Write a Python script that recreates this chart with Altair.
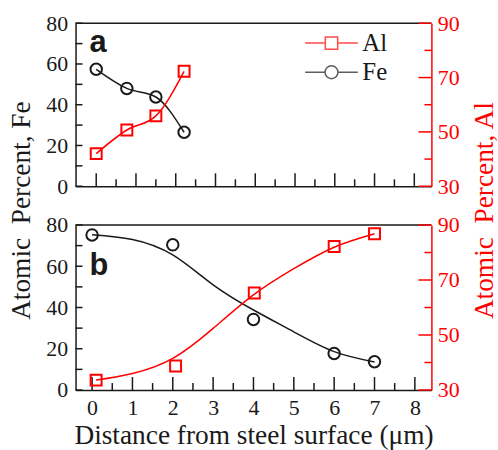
import altair as alt
import pandas as pd

# ---------------- data ----------------
# panel a
xa = [0.0, 0.77, 1.5, 2.21]
fe_a = [57.4, 48.0, 43.8, 26.5]
al_a = [42.0, 50.7, 55.9, 72.3]

# panel b measured points
fe_b_x = [0.0, 2.0, 4.0, 6.0, 7.0]
fe_b = [75.2, 70.4, 34.2, 17.7, 13.7]
al_b_x = [0.1, 2.07, 4.02, 6.0, 7.0]
al_b = [33.6, 38.7, 65.3, 82.2, 86.8]

# panel b fitted curves
fe_fit_x = [0, 1, 2, 3, 4, 5, 6, 7]
fe_fit = [75.3, 73.0, 65.5, 51.0, 38.8, 28.2, 18.6, 13.6]
al_fit_x = [0.1, 1, 2, 3, 4, 5, 6, 7]
al_fit = [33.6, 36.0, 41.5, 52.4, 64.6, 74.1, 81.9, 86.8]

# ticks
x_major = [0, 1, 2, 3, 4, 5, 6, 7, 8]
x_minor = [0.5, 1.5, 2.5, 3.5, 4.5, 5.5, 6.5, 7.5]
fe_ticks = [0, 10, 20, 30, 40, 50, 60, 70, 80]
fe_labels = [0, 20, 40, 60, 80]
al_major = [30, 50, 70, 90]
al_minor = [40, 60, 80]

series = ["Al", "Fe"]

RED = "#ff0000"
BLK = "#1a1a1a"
SERIF = "Liberation Serif"
W = 358
HA = 164
HB = 166
TICK_FS = 22
TITLE_FS = 27.5

AL_PATH = "M-1.96,0H-0.46M0.46,0H1.96M-0.46,-0.46H0.46V0.46H-0.46Z"
FE_PATH = ("M-1.96,0H-0.48M0.48,0H1.96M-0.48,0A0.48,0.48 0 1,0 0.48,0"
           "A0.48,0.48 0 1,0 -0.48,0")


def df(xs, vs, s):
    return pd.DataFrame({"x": xs, "v": vs, "s": s})


def panel(xdom, h, fe_pts, al_pts, fe_line, al_line, interp, bottom_labels,
          letter, letter_y, with_legend):
    xs = alt.Scale(domain=xdom, nice=False, zero=False)
    fes = alt.Scale(domain=[0, 80], nice=False, zero=False)
    als = alt.Scale(domain=[30, 90], nice=False, zero=False)

    common = dict(labelFont=SERIF, titleFont=SERIF, labelFontSize=TICK_FS,
                  titleFontWeight="normal", ticks=False, grid=False,
                  domainWidth=1.5)
    if bottom_labels:
        xaxis = alt.Axis(orient="bottom", values=x_major, format="d",
                         labelPadding=8, labelColor=BLK, domainColor=BLK,
                         title="Distance from steel surface (\u03bcm)",
                         titleFontSize=TITLE_FS, titlePadding=3, titleColor=BLK,
                         **common)
    else:
        xaxis = alt.Axis(orient="bottom", labels=False, title="",
                         domainColor=BLK, **common)

    if with_legend:
        laxis = alt.Axis(orient="left", values=fe_labels, labelPadding=8,
                         labelColor=BLK, domainColor=BLK,
                         title="Atomic\u00a0 Percent, Fe", titleX=-54, titleY=188,
                         titleAngle=270, titleAlign="center", titleBaseline="middle",
                         titleFontSize=TITLE_FS, titleColor=BLK, **common)
        raxis = alt.Axis(orient="right", values=al_major, labelPadding=6,
                         labelColor=RED, domainColor=RED,
                         title="Atomic\u00a0 Percent, Al", titleX=53, titleY=188,
                         titleAngle=270, titleAlign="center", titleBaseline="middle",
                         titleFontSize=TITLE_FS, titleColor=RED, **common)
    else:
        laxis = alt.Axis(orient="left", values=fe_labels, labelPadding=8,
                         labelColor=BLK, domainColor=BLK, title="", **common)
        raxis = alt.Axis(orient="right", values=al_major, labelPadding=6,
                         labelColor=RED, domainColor=RED, title="", **common)

    fe_line_l = alt.Chart(fe_line).mark_line(
        interpolate=interp, color=BLK, strokeWidth=1.5).encode(
        x=alt.X("x:Q", scale=xs, axis=xaxis),
        y=alt.Y("v:Q", scale=fes, axis=laxis))
    fe_pts_l = alt.Chart(fe_pts).mark_point(
        shape="circle", filled=False, size=133, strokeWidth=2, opacity=1,
        color=BLK).encode(
        x=alt.X("x:Q", scale=xs), y=alt.Y("v:Q", scale=fes))
    fe_tick_l = alt.Chart(pd.DataFrame({"v": fe_ticks})).mark_rule(
        color=BLK, strokeWidth=1.5).encode(
        y=alt.Y("v:Q", scale=fes), x=alt.value(0), x2=alt.value(7))
    xmaj_l = alt.Chart(pd.DataFrame({"x": x_major})).mark_rule(
        color=BLK, strokeWidth=1.5).encode(
        x=alt.X("x:Q", scale=xs), y=alt.value(h), y2=alt.value(h - 13))
    xmin_l = alt.Chart(pd.DataFrame({"x": x_minor})).mark_rule(
        color=BLK, strokeWidth=1.5).encode(
        x=alt.X("x:Q", scale=xs), y=alt.value(h), y2=alt.value(h - 7))
    top_l = alt.Chart(pd.DataFrame({"k": [0]})).mark_rule(
        color=BLK, strokeWidth=1.5).encode(
        x=alt.value(0), x2=alt.value(W), y=alt.value(0))
    letter_l = alt.Chart(pd.DataFrame({"t": [letter]})).mark_text(
        font="Liberation Sans", fontWeight="bold", fontSize=31, align="left",
        baseline="alphabetic", color=BLK).encode(
        text="t:N", x=alt.value(14), y=alt.value(letter_y))

    al_line_l = alt.Chart(al_line).mark_line(
        interpolate=interp, color=RED, strokeWidth=1.5).encode(
        x=alt.X("x:Q", scale=xs),
        y=alt.Y("v:Q", scale=als, axis=raxis))
    al_pts_l = alt.Chart(al_pts).mark_point(
        shape="square", filled=False, size=121, strokeWidth=2, opacity=1,
        color=RED).encode(
        x=alt.X("x:Q", scale=xs), y=alt.Y("v:Q", scale=als))
    al_maj_l = alt.Chart(pd.DataFrame({"v": al_major})).mark_rule(
        color=RED, strokeWidth=1.5).encode(
        y=alt.Y("v:Q", scale=als), x=alt.value(W), x2=alt.value(W - 13))
    al_min_l = alt.Chart(pd.DataFrame({"v": al_minor})).mark_rule(
        color=RED, strokeWidth=1.5).encode(
        y=alt.Y("v:Q", scale=als), x=alt.value(W), x2=alt.value(W - 7))

    fe_layers = [fe_line_l, fe_tick_l, xmaj_l, xmin_l, top_l, fe_pts_l, letter_l]
    if with_legend:
        leg = alt.Legend(
            orient="none", legendX=243, legendY=5.5, title=None,
            labelFont=SERIF, labelFontSize=25, labelColor=BLK,
            labelOffset=16.5, rowPadding=1.3, padding=0,
            symbolSize=729, symbolStrokeWidth=1.5)
        legend_l = alt.Chart(pd.DataFrame({"s": series})).mark_point(
            filled=False, strokeWidth=1.5).encode(
            color=alt.Color("s:N", scale=alt.Scale(domain=series, range=[RED, BLK]),
                            legend=leg),
            shape=alt.Shape("s:N", scale=alt.Scale(domain=series,
                                                   range=[AL_PATH, FE_PATH]),
                            legend=leg)
        ).transform_filter("false")
        fe_layers.append(legend_l)

    fe_group = alt.layer(*fe_layers)
    al_group = alt.layer(al_line_l, al_maj_l, al_min_l, al_pts_l)
    return alt.layer(fe_group, al_group).resolve_scale(y="independent").properties(
        width=W, height=h)


pa = panel([-0.52, 8.43], HA,
           df(xa, fe_a, "Fe"), df(xa, al_a, "Al"),
           df(xa, fe_a, "Fe"), df(xa, al_a, "Al"),
           "monotone", False, "a", 29, True)
pb = panel([-0.41, 8.41], HB,
           df(fe_b_x, fe_b, "Fe"), df(al_b_x, al_b, "Al"),
           df(fe_fit_x, fe_fit, "Fe"), df(al_fit_x, al_fit, "Al"),
           "natural", True, "b", 50, False)

chart = alt.vconcat(pa, pb, spacing=39, bounds="flush").properties(
    padding={"left": 7, "top": 10, "right": 0, "bottom": 0},
    background="white"
).configure(font=SERIF).configure_view(stroke="transparent").configure_axis(
    labelFont=SERIF, titleFont=SERIF
).configure_legend(labelFont=SERIF)

chart.save("out.html", embed_options={"renderer": "svg", "actions": False})
